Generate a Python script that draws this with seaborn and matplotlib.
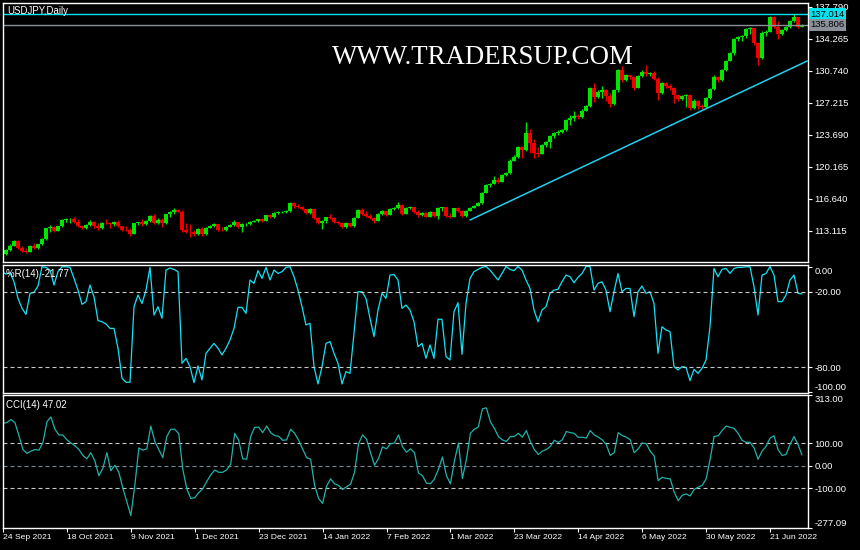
import numpy as np
import pandas as pd
import seaborn as sns
from matplotlib import pyplot as plt

# USDJPY daily bars (open of each bar = previous close)
start_date = "2021-09-24"
first_open = 110.25
close = [
    110.54, 111.01, 111.45, 112.00, 111.19, 110.94, 110.83, 111.49, 111.19, 111.64,
    112.22, 113.40, 113.58, 113.14, 113.65, 114.32, 114.39, 114.43, 114.13, 113.69,
    113.40, 113.77, 114.13, 113.65, 113.40, 114.02, 113.99, 113.91, 114.10, 113.65,
    113.25, 113.22, 112.81, 113.95, 114.06, 113.84, 114.21, 114.79, 113.99, 114.32,
    114.02, 114.94, 115.16, 115.45, 115.23, 113.25, 113.03, 112.96, 112.74, 113.29,
    112.74, 113.47, 113.66, 113.84, 113.22, 113.18, 113.58, 113.77, 114.06, 113.51,
    113.84, 113.90, 114.13, 114.24, 114.39, 114.24, 114.83, 114.61, 115.05, 115.20,
    115.25, 115.31, 116.15, 115.86, 115.71, 115.49, 115.05, 115.53, 114.50, 114.02,
    114.21, 114.61, 114.50, 114.13, 114.02, 113.51, 113.95, 113.66, 114.57, 115.42,
    114.98, 114.76, 114.50, 114.24, 114.98, 115.31, 114.90, 115.53, 115.60, 115.97,
    114.98, 115.60, 115.78, 115.23, 114.83, 115.12, 114.68, 115.23, 114.79, 115.60,
    115.71, 114.76, 114.61, 115.60, 115.34, 114.72, 115.33, 115.69, 115.91, 116.17,
    117.34, 118.19, 118.30, 118.74, 118.55, 119.29, 119.47, 120.87, 121.31, 122.33,
    122.04, 123.95, 122.77, 121.67, 121.60, 122.59, 122.88, 123.58, 123.95, 124.05,
    124.24, 125.34, 125.53, 125.78, 125.64, 126.37, 126.89, 128.90, 127.84, 128.46,
    128.60, 127.99, 127.05, 128.60, 130.90, 129.75, 130.25, 130.05, 128.90, 130.19,
    130.62, 130.37, 130.52, 129.90, 128.28, 129.38, 129.10, 128.83, 128.10, 127.62,
    127.99, 128.10, 126.63, 127.47, 126.90, 126.81, 127.73, 128.72, 130.11, 129.75,
    130.85, 131.88, 132.69, 134.23, 134.45, 134.55, 135.33, 135.44, 133.79, 132.13,
    134.96, 135.07, 136.73, 135.62, 134.82, 135.26, 135.55, 136.28, 136.65, 135.62,
    135.81,
]
high = [
    110.60, 111.10, 111.62, 112.10, 112.08, 111.45, 111.25, 111.55, 111.78, 111.70,
    112.30, 113.45, 113.75, 113.65, 113.70, 114.40, 114.50, 114.50, 114.65, 114.40,
    113.75, 113.85, 114.30, 114.20, 113.95, 114.10, 114.40, 114.05, 114.25, 114.30,
    113.70, 113.65, 113.40, 114.00, 114.15, 114.40, 114.30, 114.90, 114.98, 114.50,
    114.58, 115.00, 115.30, 115.60, 115.52, 115.40, 113.95, 113.85, 113.25, 113.40,
    113.60, 113.55, 113.75, 114.00, 113.90, 113.60, 113.65, 113.85, 114.30, 114.10,
    113.95, 114.00, 114.25, 114.35, 114.45, 114.50, 114.90, 114.95, 115.15, 115.30,
    115.35, 115.40, 116.35, 116.30, 116.05, 115.90, 115.55, 115.60, 115.45, 114.60,
    114.30, 114.70, 114.95, 114.60, 114.25, 114.10, 114.05, 114.00, 114.65, 115.50,
    115.60, 115.30, 115.00, 114.70, 115.05, 115.40, 115.35, 115.60, 115.70, 116.30,
    116.10, 115.70, 115.85, 115.80, 115.40, 115.20, 115.20, 115.30, 115.25, 115.70,
    115.80, 115.75, 115.10, 115.65, 115.70, 115.40, 115.40, 115.80, 116.00, 116.30,
    117.40, 118.30, 118.45, 119.15, 119.05, 119.40, 119.60, 121.00, 121.45, 122.45,
    122.45, 125.10, 124.40, 123.20, 122.40, 122.70, 123.00, 123.70, 124.05, 124.20,
    124.35, 125.45, 125.90, 126.35, 125.95, 126.50, 127.00, 129.00, 129.40, 128.60,
    129.10, 128.80, 128.30, 128.70, 131.00, 131.25, 130.40, 130.30, 130.20, 130.30,
    130.80, 131.40, 130.65, 130.70, 130.05, 129.50, 129.50, 129.30, 129.00, 128.20,
    128.10, 128.25, 128.15, 127.60, 127.50, 127.05, 127.85, 128.85, 130.25, 130.20,
    130.95, 132.00, 132.80, 134.40, 134.60, 134.70, 135.45, 135.60, 135.50, 133.90,
    135.10, 135.20, 136.75, 136.75, 136.20, 135.40, 135.65, 136.40, 137.01, 136.70,
    135.90,
]
low = [
    110.15, 110.45, 110.90, 111.40, 111.10, 110.82, 110.72, 110.80, 111.08, 111.12,
    111.58, 112.15, 113.05, 113.05, 113.10, 113.60, 114.10, 114.00, 113.98, 113.58,
    113.30, 113.35, 113.70, 113.40, 113.18, 113.35, 113.85, 113.40, 113.70, 113.50,
    113.15, 113.10, 112.55, 112.75, 113.80, 113.70, 113.80, 114.15, 113.85, 113.85,
    113.50, 113.90, 114.60, 115.00, 115.15, 113.05, 112.90, 112.48, 112.60, 112.65,
    112.50, 112.70, 113.40, 113.55, 113.10, 113.10, 113.15, 113.50, 113.70, 113.40,
    113.00, 113.65, 113.80, 114.05, 114.15, 114.15, 114.20, 114.50, 114.55, 115.00,
    115.05, 115.10, 115.25, 115.62, 115.60, 115.40, 114.95, 114.98, 114.40, 113.90,
    113.35, 114.00, 114.40, 114.00, 113.90, 113.40, 113.40, 113.55, 113.60, 114.50,
    114.90, 114.65, 114.40, 114.00, 114.20, 114.90, 114.80, 114.85, 115.40, 115.50,
    114.90, 114.95, 115.50, 115.10, 114.70, 114.80, 114.60, 114.65, 114.70, 114.40,
    115.30, 114.65, 114.50, 114.60, 115.25, 114.60, 114.68, 115.30, 115.60, 115.85,
    116.10, 117.30, 118.00, 118.25, 118.35, 118.50, 119.20, 119.40, 120.80, 121.20,
    121.10, 121.95, 121.70, 121.20, 121.25, 121.55, 122.40, 122.30, 123.40, 123.70,
    123.90, 124.10, 124.80, 125.20, 125.40, 125.55, 126.30, 126.80, 127.35, 127.80,
    127.80, 127.40, 126.80, 127.00, 128.40, 129.50, 129.60, 129.90, 128.60, 128.85,
    130.10, 130.20, 130.20, 129.70, 127.50, 128.20, 128.90, 128.60, 127.20, 127.40,
    127.50, 126.80, 126.40, 126.50, 126.55, 126.50, 126.70, 127.60, 128.60, 129.55,
    129.60, 130.70, 131.80, 132.55, 134.00, 134.00, 134.40, 134.80, 133.60, 131.40,
    132.10, 134.60, 135.00, 135.45, 134.25, 134.70, 135.10, 135.50, 136.15, 135.50,
    135.60,
]

wpr = [
    -4, -6, -5, -12, -25.3, -33.2, -38, -21.3, -20.5, -15.5,
    -0.2, -0.7, -2.8, -14.7, -4.1, -0.2, -0.2, -0.7, -9.4, -18.7,
    -30, -27.9, -14.7, -24, -43, -43.8, -45.6, -49.1, -49.1, -64.9,
    -88.7, -91.9, -91.9, -31.9, -22.6, -29.3, -18.7, -0.7, -38.5, -31.9,
    -41.1, -2.8, -1.2, -2.3, -4.1, -76.8, -72.9, -79.5, -92.2, -78.9,
    -90, -68.9, -64.9, -61, -64.9, -70.2, -64.9, -58.3, -49.1, -32.4,
    -32.4, -37.2, -10.7, -13.4, -3.3, -9.4, -0.7, -10.7, -2.8, -5.5,
    -4.1, -0.7, -0.2, -8.1, -18.7, -31.9, -46.4, -45.1, -79.5, -93.2,
    -79.5, -61, -59.6, -68.9, -76.8, -93.2, -83.4, -84.8, -53, -20,
    -20, -25.3, -41.1, -55.7, -34.5, -21.3, -25.3, -6.8, -6.3, -10.7,
    -33.2, -30.6, -34.5, -43.8, -63.6, -61, -72.9, -62.3, -72.9, -41.9,
    -41.9, -71.5, -74.2, -35.9, -28.7, -69.7, -29.3, -9.4, -4.1, -2.3,
    -0.7, 0, -2.8, -6.8, -10.7, -5.5, 0, -2.3, -3.3, 0,
    -2.8, -10.7, -17.4, -34.5, -43.8, -34.5, -31.9, -21.3, -18.7, -18.1,
    -12.1, -6.8, -8.1, -12.9, -8.6, -5.5, 0, 0, -18.7, -13.4,
    -12.1, -18.7, -35.9, -20, -5.5, -20, -17.4, -17.4, -39.8, -20,
    -15.5, -21.3, -20, -29.3, -68.9, -47.8, -50.4, -51.7, -79.5, -82.1,
    -79.5, -80, -90.6, -81.6, -84.8, -80.8, -74.2, -47.8, -1.5, -8.1,
    -2.3, -1.5, -5.5, -1.5, -0.7, -0.7, -0.2, -0.2, -16, -38.5,
    -6.8, -5.5, 0, -6.8, -27.9, -27.9, -22.6, -10.7, -6.8, -21.3,
    -21.77,
]
cci = [
    187, 191, 204, 190, 132, 71, 54, 64, 71, 68,
    103, 194, 216, 161, 136, 135, 114, 100, 88, 71,
    45, 30, 57, 20, -45, -12, 57, -23, 1, -30,
    -100, -161, -222, -88, 78, 68, 74, 175, 107, 71,
    35, 129, 161, 161, 141, -16, -103, -146, -143, -120,
    -103, -71, -41, -20, -30, -30, -19, 6, 143, 112,
    30, 28, 129, 170, 170, 146, 175, 146, 133, 130,
    112, 114, 161, 143, 112, 74, 35, 28, -88, -146,
    -168, -91, -59, -81, -88, -106, -94, -83, -30, 97,
    136, 117, 57, 1, 32, 83, 74, 97, 100, 136,
    83, 59, 74, 57, -33, -45, -78, -81, -59, -16,
    38, -45, -81, 20, 100, -57, 28, 143, 161, 172,
    252, 256, 194, 165, 129, 114, 107, 129, 129, 143,
    126, 155, 107, 71, 49, 64, 71, 85, 112, 103,
    114, 151, 146, 143, 125, 126, 122, 155, 136, 126,
    114, 93, 45, 57, 146, 133, 126, 114, 57, 74,
    100, 97, 64, 42, -67, -52, -57, -59, -117, -156,
    -132, -126, -135, -106, -96, -88, -59, 28, 129, 132,
    155, 175, 170, 165, 143, 112, 103, 103, 78, 28,
    64, 85, 122, 132, 71, 45, 49, 93, 129, 93,
    47.02,
]

price_ticks = [113.115, 116.640, 120.165, 123.690, 127.215, 130.740, 134.265, 137.790]
ask_line = 137.014
bid_line = 135.806
trend_bars = [117, 201.3]
trend_prices = [114.32, 131.84]
wpr_levels = [-20, -80]
wpr_ticks = [0, -20, -80, -100]
cci_levels = [100, -100]
cci_ticks = [313.00, 100, 0, -100, -277.09]
date_step = 16

GREEN = "#00e600"
RED = "#ee0000"
CYAN = "#00e4f0"
WPR_COLOR = "#12e2f6"
CCI_COLOR = "#20b2aa"
BID_GREY = "#8a9098"
W, H = 860, 550


def px_rect(x0, y0, x1, y1):
    return [x0 / W, 1 - y1 / H, (x1 - x0) / W, (y1 - y0) / H]


def style_pane(ax, ticks, fmt, ylim):
    ax.set_facecolor("black")
    for sp in ax.spines.values():
        sp.set_color("white")
        sp.set_linewidth(1)
    ax.set_xlim(0.25, 201.5)
    ax.set_ylim(*ylim)
    ax.yaxis.tick_right()
    ax.set_yticks(ticks)
    ax.set_yticklabels([fmt.format(t) for t in ticks])
    ax.tick_params(axis="y", colors="white", labelsize=6.8, length=3,
                   width=0.8, pad=1.5, right=True, left=False)
    ax.tick_params(axis="x", bottom=False, labelbottom=False)
    ax.set_xlabel("")
    ax.set_ylabel("")
    ax.grid(False)


def pin_end_labels(ax, top, bottom):
    for lab, t in zip(ax.get_yticklabels(), ax.get_yticks()):
        if t == top:
            lab.set_va("top")
        elif t == bottom:
            lab.set_va("bottom")


sns.set_theme(style="dark", rc={
    "figure.facecolor": "black",
    "axes.facecolor": "black",
    "axes.edgecolor": "white",
    "text.color": "white",
    "xtick.color": "white",
    "ytick.color": "white",
})
plt.rcParams["font.family"] = ["Liberation Sans", "DejaVu Sans"]

bars = np.arange(len(close))
closes = np.array(close)
opens = np.array([first_open] + close[:-1])
rising = closes >= opens
colors = np.where(rising, GREEN, RED)
dates = pd.bdate_range(start_date, periods=len(close))

fig = plt.figure(figsize=(8.6, 5.5), dpi=100)
ax_p = fig.add_axes(px_rect(3, 3, 808, 262))
ax_r = fig.add_axes(px_rect(3, 265, 808, 393))
ax_c = fig.add_axes(px_rect(3, 395, 808, 528))

# price window
ax_p.vlines(bars, low, high, colors=colors, lw=1)
ax_p.bar(bars, np.maximum(np.abs(closes - opens), 0.05),
         bottom=np.minimum(opens, closes), width=0.78, color=colors, linewidth=0)
ax_p.axhline(ask_line, color=CYAN, lw=1)
ax_p.axhline(bid_line, color=BID_GREY, lw=1)
sns.lineplot(x=trend_bars, y=trend_prices, ax=ax_p, color="#1ed0f0", lw=1.1)
style_pane(ax_p, price_ticks, "{:.3f}", (109.69, 138.23))
for val, fc in [(ask_line, CYAN), (bid_line, BID_GREY)]:
    ax_p.text(1.003, val, f"{val:.3f}", transform=ax_p.get_yaxis_transform(),
              ha="left", va="center", fontsize=6.8, color="black", clip_on=False,
              zorder=5, bbox=dict(boxstyle="square,pad=0.18", fc=fc, ec="none"))
ax_p.text(0.005, 0.988, "USDJPY,Daily", transform=ax_p.transAxes,
          ha="left", va="top", fontsize=6.9, color="white")
fig.text(483 / W, 1 - 57 / H, "WWW.TRADERSUP.COM", ha="center", va="center",
         fontsize=19.4, color="white", family=["Liberation Serif", "DejaVu Serif"])

# Williams %R window
sns.lineplot(x=bars, y=wpr, ax=ax_r, color=WPR_COLOR, lw=0.9)
for lvl in wpr_levels:
    ax_r.axhline(lvl, color="#c8c8c8", lw=0.8, dashes=(3.6, 2.7))
style_pane(ax_r, wpr_ticks, "{:.2f}", (-100.4, 1.2))
pin_end_labels(ax_r, 0, -100)
ax_r.text(0.004, 0.965, f"%R(14) {wpr[-1]:.2f}", transform=ax_r.transAxes,
          ha="left", va="top", fontsize=6.9, color="white")

# CCI window
ax_c.axhline(0, color="#778899", lw=0.8, dashes=(3.6, 2.7))
for lvl in cci_levels:
    ax_c.axhline(lvl, color="#c8c8c8", lw=0.8, dashes=(3.6, 2.7))
sns.lineplot(x=bars, y=cci, ax=ax_c, color=CCI_COLOR, lw=0.9)
style_pane(ax_c, cci_ticks, "{:.2f}", (-277.09, 313.0))
pin_end_labels(ax_c, 313.0, -277.09)
ax_c.text(0.004, 0.96, f"CCI(14) {cci[-1]:.2f}", transform=ax_c.transAxes,
          ha="left", va="top", fontsize=6.9, color="white")
ax_c.set_xticks(bars[::date_step])
ax_c.set_xticklabels([f"{d.day} {d:%b %Y}" for d in dates[::date_step]],
                     ha="left", fontsize=6.1)
ax_c.tick_params(axis="x", bottom=True, labelbottom=True, colors="white",
                 length=3, width=0.8, pad=1.5)

fig.savefig("out.png", dpi=100, facecolor="black")
